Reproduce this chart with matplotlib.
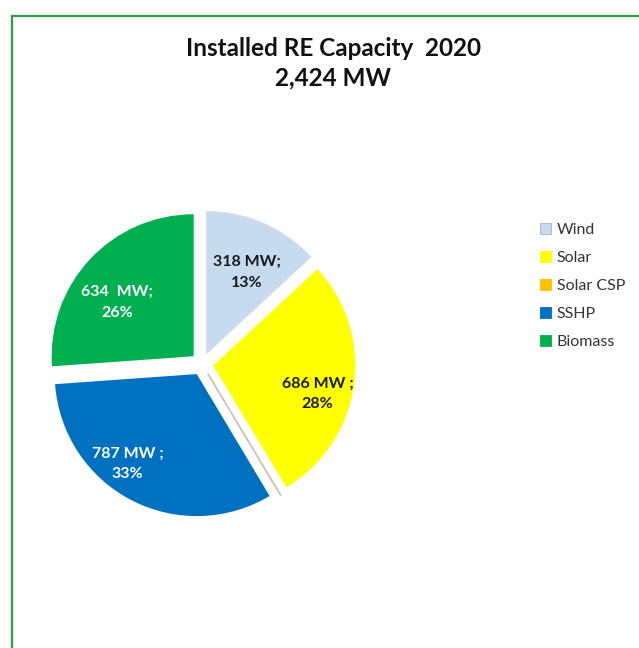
import numpy as np
import matplotlib
matplotlib.use("Agg")
import matplotlib.pyplot as plt
from matplotlib.patches import Patch, Rectangle

# --- data ---
categories = ["Wind", "Solar", "Solar CSP", "SSHP", "Biomass"]
capacity_mw = [318, 686, 1, 787, 634]
slice_labels = ["318 MW;\n13%", "686 MW ;\n28%", "", "787 MW ;\n33%", "634  MW;\n26%"]
title_text = "Installed RE Capacity  2020\n2,424 MW"

colours = ["#C6DBF0", "#FFFF00", "#FFC000", "#0070C0", "#00B050"]
label_colours = ["#1a1a1a", "#1a1a1a", "#1a1a1a", "white", "white"]
# per-slice label placement (distance from exploded centre, angle nudge in degrees)
label_dist = [0.64, 0.76, 0.0, 0.80, 0.66]
label_nudge = [-3, -7, 0, -10, 8]

plt.rcParams["font.family"] = ["Lato", "DejaVu Sans"]

W, H = 639, 648
fig = plt.figure(figsize=(W / 100, H / 100), dpi=100)

# green chart-area frame (runs off the right and bottom of the crop)
fig.patches.append(Rectangle((12 / W, -0.2), 1.5, (H - 16) / H + 0.2,
                             transform=fig.transFigure, fill=False,
                             ec="#2F9B3C", lw=1.6))

fig.text(333 / W, 1 - 63 / H, title_text, ha="center", va="center",
         fontsize=17.5, fontweight="bold", color="#111111", linespacing=1.32)

# pie axes: centre (202, 364) px, radius 142 px
cx, cy, R, half = 202, H - 364, 142, 190
ax = fig.add_axes([(cx - half) / W, (cy - half) / H, 2 * half / W, 2 * half / H])
explode = 0.08
wedges, _ = ax.pie(capacity_mw, colors=colours, startangle=90, counterclock=False,
                   explode=[explode] * len(capacity_mw), radius=1.0,
                   wedgeprops=dict(linewidth=0))
# the near-zero CSP slice shows only as its outline
wedges[2].set_edgecolor("#CFC6B4")
wedges[2].set_linewidth(1.0)
wedges[0].set_edgecolor("#D8DEE6")
wedges[0].set_linewidth(0.8)
lim = half / R
ax.set_xlim(-lim, lim)
ax.set_ylim(-lim, lim)
ax.set_aspect("equal")
ax.axis("off")

for w, txt, d, nud, tc in zip(wedges, slice_labels, label_dist, label_nudge, label_colours):
    if not txt:
        continue
    mid = np.deg2rad((w.theta1 + w.theta2) / 2)
    ang = mid + np.deg2rad(nud)
    ox, oy = explode * np.cos(mid), explode * np.sin(mid)
    ax.text(ox + d * np.cos(ang), oy + d * np.sin(ang), txt, ha="center", va="center",
            fontsize=11.5, fontweight="bold", color=tc, linespacing=1.6)

handles = [Patch(facecolor=c, edgecolor="#B0B0B0" if i == 0 else c, linewidth=0.6)
           for i, c in enumerate(colours)]
fig.legend(handles, categories, loc="upper left",
           bbox_to_anchor=(532 / W, 1 - 215 / H), frameon=False,
           fontsize=11.5, labelcolor="#333333", handlelength=0.7, handleheight=0.7,
           handletextpad=0.35, labelspacing=0.86, borderpad=0)

fig.savefig("out.png", dpi=100)
